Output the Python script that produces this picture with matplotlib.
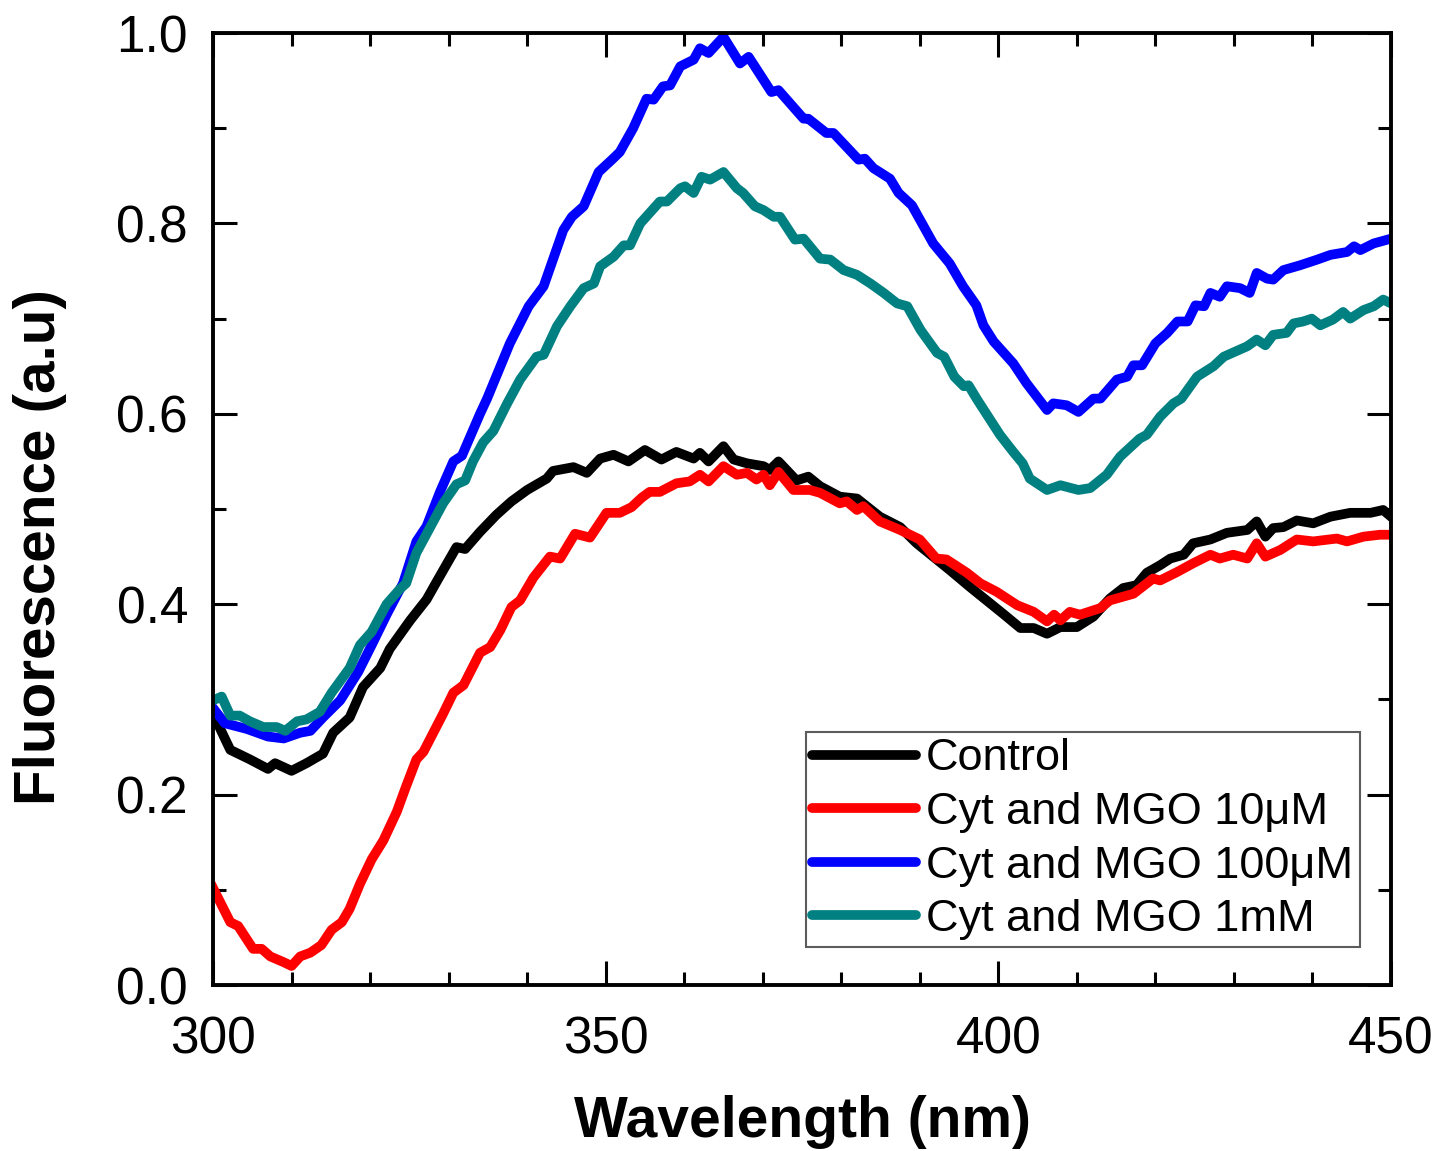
import matplotlib
matplotlib.use("Agg")
import matplotlib.pyplot as plt
from matplotlib.ticker import MultipleLocator

plt.rcParams['font.family'] = ['Liberation Sans', 'DejaVu Sans']

# --- data ---
control_wl = [300.0, 302.2, 304.7, 307.0, 307.9, 310.0, 311.9, 314.0, 315.3, 317.4,
              319.1, 321.3, 322.5, 325.1, 327.2, 328.5, 331.0, 332.1, 334.0, 336.1,
              338.0, 340.0, 342.5, 343.3, 345.9, 347.6, 349.3, 351.0, 352.9, 355.0,
              357.1, 359.0, 361.2, 362.0, 363.1, 365.0, 366.3, 368.0, 370.1, 370.9,
              372.0, 374.3, 375.8, 377.3, 379.8, 382.0, 384.9, 387.5, 389.6, 391.7,
              393.8, 396.4, 398.5, 400.6, 402.8, 404.5, 406.2, 407.9, 410.0, 412.1,
              414.2, 415.9, 417.6, 418.9, 420.6, 421.9, 423.6, 424.8, 427.0, 429.1,
              431.7, 432.9, 434.0, 435.0, 436.3, 438.0, 440.1, 442.3, 444.8, 447.4,
              449.0, 450.0]
control = [0.285, 0.247, 0.237, 0.227, 0.233, 0.225, 0.233, 0.243, 0.265, 0.281,
           0.313, 0.333, 0.353, 0.383, 0.405, 0.424, 0.460, 0.458, 0.476, 0.494,
           0.508, 0.520, 0.532, 0.540, 0.544, 0.538, 0.553, 0.557, 0.550, 0.562,
           0.552, 0.560, 0.553, 0.559, 0.550, 0.566, 0.552, 0.548, 0.545, 0.541,
           0.550, 0.530, 0.534, 0.524, 0.513, 0.511, 0.492, 0.481, 0.464, 0.450,
           0.436, 0.418, 0.404, 0.390, 0.375, 0.375, 0.369, 0.376, 0.376, 0.387,
           0.406, 0.417, 0.420, 0.433, 0.441, 0.448, 0.452, 0.464, 0.468, 0.475,
           0.478, 0.487, 0.471, 0.480, 0.481, 0.488, 0.485, 0.492, 0.496, 0.496,
           0.499, 0.492]

mgo10_wl = [300.0, 302.2, 303.2, 305.1, 306.2, 307.3, 309.0, 310.0, 311.1, 312.4,
            313.8, 315.1, 316.4, 317.4, 318.7, 320.2, 321.7, 323.4, 324.6, 325.9,
            326.8, 328.3, 329.3, 330.6, 331.9, 334.0, 335.3, 336.6, 338.0, 339.1,
            340.8, 342.9, 344.2, 346.1, 348.0, 350.1, 351.8, 353.3, 354.6, 355.6,
            356.9, 359.0, 360.7, 362.0, 363.1, 365.0, 366.7, 368.0, 369.2, 370.1,
            370.9, 372.0, 373.9, 376.0, 377.3, 379.8, 380.7, 382.0, 382.8, 384.9,
            387.5, 390.0, 392.1, 393.4, 396.0, 397.7, 399.8, 402.4, 404.5, 406.2,
            407.1, 407.9, 409.1, 410.4, 413.0, 414.2, 417.2, 419.7, 420.6, 422.8,
            424.8, 427.0, 428.2, 429.9, 431.7, 432.9, 434.0, 435.9, 438.0, 440.1,
            443.1, 444.4, 446.5, 448.6, 450.0]
mgo10 = [0.102, 0.066, 0.062, 0.038, 0.038, 0.030, 0.024, 0.020, 0.030, 0.034,
         0.042, 0.058, 0.066, 0.080, 0.106, 0.132, 0.152, 0.182, 0.209, 0.237,
         0.245, 0.269, 0.285, 0.307, 0.315, 0.349, 0.355, 0.373, 0.397, 0.404,
         0.428, 0.450, 0.448, 0.474, 0.470, 0.496, 0.496, 0.502, 0.512, 0.518,
         0.518, 0.527, 0.529, 0.536, 0.529, 0.545, 0.536, 0.538, 0.531, 0.536,
         0.525, 0.539, 0.520, 0.520, 0.517, 0.506, 0.508, 0.499, 0.503, 0.487,
         0.478, 0.468, 0.448, 0.447, 0.433, 0.422, 0.413, 0.399, 0.392, 0.382,
         0.389, 0.383, 0.392, 0.389, 0.396, 0.404, 0.411, 0.427, 0.425, 0.434,
         0.443, 0.452, 0.448, 0.452, 0.448, 0.464, 0.450, 0.457, 0.468, 0.466,
         0.469, 0.466, 0.471, 0.473, 0.473]

mgo100_wl = [300.0, 301.5, 304.3, 307.0, 309.0, 311.1, 312.4, 314.0, 316.2, 318.5,
             320.2, 322.1, 324.2, 325.9, 327.2, 328.9, 330.6, 331.7, 334.0, 334.9,
             337.8, 340.2, 342.1, 344.6, 345.7, 347.2, 349.1, 350.8, 351.8, 353.5,
             355.2, 356.1, 357.3, 358.2, 359.5, 361.2, 362.0, 363.1, 365.0, 367.1,
             368.2, 371.1, 372.0, 375.2, 375.8, 378.1, 379.0, 382.2, 383.0, 384.1,
             386.2, 387.3, 389.0, 391.7, 393.8, 395.5, 397.2, 398.1, 399.4, 401.9,
             403.6, 406.2, 407.0, 408.7, 410.2, 412.1, 413.0, 415.1, 416.4, 417.2,
             418.3, 420.0, 421.5, 422.8, 424.1, 425.1, 426.2, 427.0, 428.2, 429.1,
             430.8, 432.0, 432.9, 434.2, 435.0, 436.3, 438.4, 440.6, 442.3, 444.4,
             445.3, 446.1, 447.8, 450.0]
mgo100 = [0.291, 0.275, 0.269, 0.261, 0.259, 0.265, 0.267, 0.281, 0.299, 0.329,
          0.357, 0.389, 0.422, 0.466, 0.482, 0.518, 0.550, 0.556, 0.600, 0.616,
          0.674, 0.713, 0.734, 0.793, 0.807, 0.818, 0.854, 0.867, 0.875, 0.900,
          0.931, 0.930, 0.944, 0.945, 0.965, 0.972, 0.984, 0.979, 0.996, 0.968,
          0.975, 0.938, 0.940, 0.910, 0.910, 0.895, 0.895, 0.867, 0.868, 0.858,
          0.847, 0.832, 0.819, 0.779, 0.758, 0.734, 0.714, 0.693, 0.676, 0.653,
          0.632, 0.604, 0.611, 0.609, 0.602, 0.616, 0.616, 0.636, 0.639, 0.651,
          0.651, 0.674, 0.685, 0.697, 0.697, 0.714, 0.713, 0.727, 0.723, 0.734,
          0.732, 0.727, 0.748, 0.742, 0.741, 0.751, 0.756, 0.762, 0.767, 0.770,
          0.776, 0.772, 0.779, 0.784]

mgo1m_wl = [300.0, 301.1, 302.2, 303.4, 304.7, 306.4, 308.1, 309.2, 310.7, 311.9,
            313.6, 315.1, 317.4, 318.7, 320.2, 322.1, 323.8, 324.6, 325.9, 327.6,
            329.3, 331.0, 332.1, 333.1, 334.4, 335.7, 337.4, 339.1, 341.2, 342.1,
            343.8, 345.5, 347.2, 348.5, 349.3, 351.0, 352.3, 353.1, 354.4, 356.9,
            357.8, 359.5, 360.1, 361.2, 362.2, 363.3, 365.0, 366.7, 367.5, 369.0,
            370.1, 371.4, 372.2, 374.1, 375.2, 377.3, 378.6, 380.3, 382.0, 383.7,
            385.4, 387.1, 388.4, 390.1, 392.2, 393.1, 394.4, 395.6, 396.2, 397.3,
            400.2, 401.9, 403.1, 404.0, 406.2, 407.9, 410.2, 411.7, 413.8, 415.5,
            418.0, 418.9, 420.6, 422.3, 423.3, 425.3, 427.4, 428.7, 431.7, 432.9,
            434.0, 435.0, 436.7, 437.6, 438.8, 439.9, 441.0, 442.6, 443.9, 444.8,
            446.5, 447.8, 449.0, 450.0]
mgo1m = [0.299, 0.303, 0.283, 0.283, 0.277, 0.271, 0.271, 0.267, 0.277, 0.279,
         0.287, 0.307, 0.333, 0.357, 0.371, 0.400, 0.416, 0.422, 0.454, 0.480,
         0.506, 0.526, 0.530, 0.550, 0.570, 0.582, 0.610, 0.636, 0.660, 0.662,
         0.692, 0.713, 0.732, 0.737, 0.755, 0.765, 0.777, 0.777, 0.800, 0.823,
         0.823, 0.837, 0.839, 0.832, 0.849, 0.846, 0.854, 0.837, 0.832, 0.818,
         0.814, 0.807, 0.807, 0.783, 0.784, 0.763, 0.762, 0.751, 0.746, 0.737,
         0.727, 0.716, 0.713, 0.688, 0.664, 0.660, 0.639, 0.629, 0.630, 0.615,
         0.578, 0.560, 0.548, 0.532, 0.520, 0.525, 0.520, 0.522, 0.536, 0.555,
         0.574, 0.578, 0.597, 0.611, 0.616, 0.639, 0.650, 0.660, 0.671, 0.678,
         0.672, 0.683, 0.685, 0.695, 0.697, 0.700, 0.693, 0.699, 0.707, 0.700,
         0.709, 0.713, 0.720, 0.716]

labels = ['Control', 'Cyt and MGO 10\u03bcM', 'Cyt and MGO 100\u03bcM', 'Cyt and MGO 1mM']
colors = ['#000000', '#ff0000', '#0000ff', '#008080']

fig = plt.figure(figsize=(14.52, 11.51), dpi=100)
ax = fig.add_axes([0.1467, 0.1442, 0.8113, 0.8271])

series = [(control_wl, control), (mgo10_wl, mgo10), (mgo100_wl, mgo100), (mgo1m_wl, mgo1m)]
for (wl, val), lab, col in zip(series, labels, colors):
    ax.plot(wl, val, color=col, lw=7, label=lab, solid_joinstyle='round')

ax.set_xlim(300, 450)
ax.set_ylim(0, 1.0)
ax.xaxis.set_major_locator(MultipleLocator(50))
ax.xaxis.set_minor_locator(MultipleLocator(10))
ax.yaxis.set_major_locator(MultipleLocator(0.2))
ax.yaxis.set_minor_locator(MultipleLocator(0.1))
ax.yaxis.set_major_formatter(lambda v, p: f'{v:.1f}')

ax.tick_params(which='both', direction='in', top=True, right=True,
               width=2.2, labelsize=37)
ax.tick_params(which='major', length=17)
ax.tick_params(which='minor', length=9.5)
ax.tick_params(axis='x', which='major', pad=22)
ax.tick_params(axis='y', which='major', pad=18)
for s in ax.spines.values():
    s.set_linewidth(2.8)

ax.set_xlabel('Wavelength (nm)', fontsize=41, fontweight='bold', labelpad=22)
ax.set_ylabel('Fluorescence (a.u)', fontsize=42, fontweight='bold',
              va='center', ha='center')
ax.yaxis.set_label_coords(-0.147, 0.46)

leg = ax.legend(loc='lower right', bbox_to_anchor=(0.9737, 0.0399), borderaxespad=0,
                fontsize=32.5, frameon=True, fancybox=False, handlelength=2.3,
                handletextpad=0.22, labelspacing=0.28, borderpad=0.15)
leg.get_frame().set_edgecolor('#333333')
leg.get_frame().set_linewidth(1.5)
for h in leg.get_lines():
    h.set_linewidth(7)
    h.set_solid_capstyle('round')

fig.savefig('out.png', dpi=100)
